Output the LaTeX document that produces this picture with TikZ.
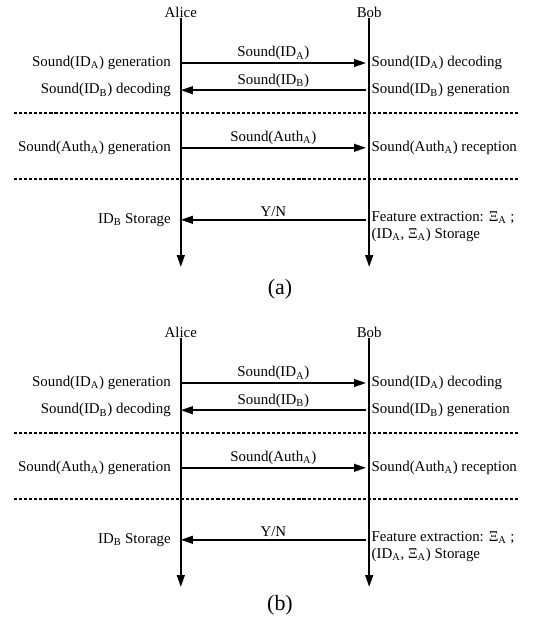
\documentclass[tikz,border=0pt]{standalone}
\usepackage{fontspec}
\setmainfont{Liberation Serif}
\usepackage{tikz}
\usetikzlibrary{arrows.meta, positioning}
\newcommand{\diagfont}{\fontsize{10.6}{12}\selectfont}

\begin{document}
\begin{tikzpicture}[
  actor/.style={inner sep=0pt, font=\diagfont},
  ltxt/.style ={anchor=east, inner sep=1pt, align=right, font=\diagfont},
  rtxt/.style ={anchor=west, inner sep=1pt, align=left, font=\diagfont},
  msg/.style  ={above, inner sep=1.5pt, font=\diagfont},
  capt/.style ={inner sep=0pt, font=\fontsize{15.6}{18}\selectfont},
  life/.style ={-{Triangle[length=8.5pt, width=5.5pt]}, line width=1.4pt},
  arr/.style  ={-{Triangle[length=8.5pt, width=5.5pt]}, line width=1.2pt},
  sep/.style  ={line width=1pt, dash pattern=on 2.2pt off 1.4pt},
]
\useasboundingbox (0,0) rectangle (13.3,15.675);

%% ═══ Panel (a) ═══
\node[actor, anchor=south] (AAl) at (4.52, 15.22) {Alice};
\node[actor, anchor=south] (ABo) at (9.23, 15.22) {Bob};
\coordinate (AAe) at (4.52, 9.00);
\coordinate (ABe) at (9.23, 9.00);
\draw[life] (AAl.south) -- (AAe);
\draw[life] (ABo.south) -- (ABe);

% puntos de los mensajes
\coordinate (AA1) at (4.52, 14.10);  \coordinate (AB1) at (9.15, 14.10);
\coordinate (AA2) at (4.52, 13.42);  \coordinate (AB2) at (9.15, 13.42);
\coordinate (AA3) at (4.52, 11.98);  \coordinate (AB3) at (9.15, 11.98);
\coordinate (AA4) at (4.52, 10.18);  \coordinate (AB4) at (9.15, 10.18);

\draw[arr] (AA1) -- node[msg] (AM1) {Sound(ID\textsubscript{A})} (AB1);
\draw[arr] (AB2) -- node[msg] (AM2) {Sound(ID\textsubscript{B})} (AA2);
\draw[arr] (AA3) -- node[msg] (AM3) {Sound(Auth\textsubscript{A})} (AB3);
\draw[arr] (AB4) -- node[msg] (AM4) {Y/N} (AA4);

\node[ltxt, left=0.21cm of AA1]  (AL1) {Sound(ID\textsubscript{A}) generation};
\node[ltxt, left=0.21cm of AA2]  (AL2) {Sound(ID\textsubscript{B}) decoding};
\node[ltxt, left=0.21cm of AA3]  (AL3) {Sound(Auth\textsubscript{A}) generation};
\node[ltxt, left=0.21cm of AA4]  (AL4) {ID\textsubscript{B} Storage};

\node[rtxt, right=0.10cm of AB1] (AR1) {Sound(ID\textsubscript{A}) decoding};
\node[rtxt, right=0.10cm of AB2] (AR2) {Sound(ID\textsubscript{B}) generation};
\node[rtxt, right=0.10cm of AB3] (AR3) {Sound(Auth\textsubscript{A}) reception};
\node[rtxt, right=0.10cm of AB4, yshift=-0.17cm]
            (AR4) {Feature extraction: Ξ\textsubscript{A} ;\\(ID\textsubscript{A}, Ξ\textsubscript{A}) Storage};

% Separadores
\draw[sep] (0.35, 12.85) -- (12.98, 12.85);
\draw[sep] (0.35, 11.20) -- (12.98, 11.20);

\node[capt] (ACa) at (7.0, 8.45) {(a)};

%% ═══ Panel (b) ═══
\node[actor, anchor=south] (BAl) at (4.52, 7.22) {Alice};
\node[actor, anchor=south] (BBo) at (9.23, 7.22) {Bob};
\coordinate (BAe) at (4.52, 1.00);
\coordinate (BBe) at (9.23, 1.00);
\draw[life] (BAl.south) -- (BAe);
\draw[life] (BBo.south) -- (BBe);

% puntos de los mensajes
\coordinate (BA1) at (4.52, 6.10);  \coordinate (BB1) at (9.15, 6.10);
\coordinate (BA2) at (4.52, 5.42);  \coordinate (BB2) at (9.15, 5.42);
\coordinate (BA3) at (4.52, 3.98);  \coordinate (BB3) at (9.15, 3.98);
\coordinate (BA4) at (4.52, 2.18);  \coordinate (BB4) at (9.15, 2.18);

\draw[arr] (BA1) -- node[msg] (BM1) {Sound(ID\textsubscript{A})} (BB1);
\draw[arr] (BB2) -- node[msg] (BM2) {Sound(ID\textsubscript{B})} (BA2);
\draw[arr] (BA3) -- node[msg] (BM3) {Sound(Auth\textsubscript{A})} (BB3);
\draw[arr] (BB4) -- node[msg] (BM4) {Y/N} (BA4);

\node[ltxt, left=0.21cm of BA1]  (BL1) {Sound(ID\textsubscript{A}) generation};
\node[ltxt, left=0.21cm of BA2]  (BL2) {Sound(ID\textsubscript{B}) decoding};
\node[ltxt, left=0.21cm of BA3]  (BL3) {Sound(Auth\textsubscript{A}) generation};
\node[ltxt, left=0.21cm of BA4]  (BL4) {ID\textsubscript{B} Storage};

\node[rtxt, right=0.10cm of BB1] (BR1) {Sound(ID\textsubscript{A}) decoding};
\node[rtxt, right=0.10cm of BB2] (BR2) {Sound(ID\textsubscript{B}) generation};
\node[rtxt, right=0.10cm of BB3] (BR3) {Sound(Auth\textsubscript{A}) reception};
\node[rtxt, right=0.10cm of BB4, yshift=-0.17cm]
            (BR4) {Feature extraction: Ξ\textsubscript{A} ;\\(ID\textsubscript{A}, Ξ\textsubscript{A}) Storage};

% Separadores
\draw[sep] (0.35, 4.85) -- (12.98, 4.85);
\draw[sep] (0.35, 3.20) -- (12.98, 3.20);

\node[capt] (BCa) at (7.0, 0.55) {(b)};

\end{tikzpicture}
\end{document}
